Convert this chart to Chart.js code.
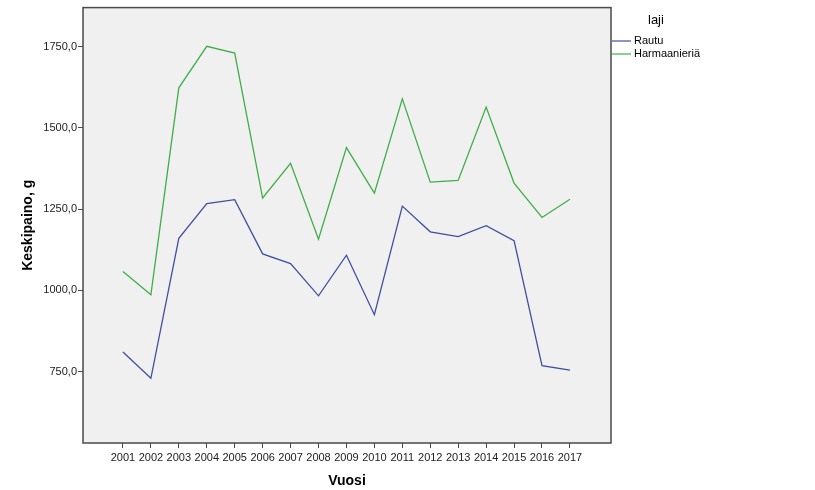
<!DOCTYPE html>
<html>
<head>
<meta charset="utf-8">
<script src="https://cdn.jsdelivr.net/npm/chart.js@4/dist/chart.umd.min.js"></script>
<style>
body{margin:0;background:#fff}
#wrap{width:815px;height:490px;position:relative}
</style>
</head>
<body>
<div id="wrap"><canvas id="c"></canvas></div>
<script>
const years = [2001,2002,2003,2004,2005,2006,2007,2008,2009,2010,2011,2012,2013,2014,2015,2016,2017]
const rautu = [810,729,1160,1267,1279,1112,1082,983,1108,925,1259,1180,1165,1199,1153,768,754]
const harmaanieria = [1058,986,1623,1751,1730,1284,1391,1157,1439,1299,1589,1333,1338,1564,1330,1224,1280]
const yTicks = [750,1000,1250,1500,1750]

const FONT = "'Liberation Sans', Arial, sans-serif"
const BLUE = "#3e4fa0"
const GREEN = "#3fae49"

const boxPlugin = {
id:"box",
beforeDraw(chart){
const a = chart.chartArea, c = chart.ctx
c.save()
c.fillStyle = "#f0f0f0"
c.fillRect(a.left,a.top,a.right-a.left,a.bottom-a.top)
c.restore()
},
afterDraw(chart){
const a = chart.chartArea, c = chart.ctx
c.save()
c.strokeStyle = "#4a4a4a"
c.lineWidth = 1.5
c.strokeRect(a.left,a.top,a.right-a.left,a.bottom-a.top)
// legend
c.fillStyle = "#000"
c.font = "13px " + FONT
c.textBaseline = "middle"
c.fillText("laji",648,20)
c.font = "11px " + FONT
chart.data.datasets.forEach((ds,i) => {
const y = 41 + i*13
c.strokeStyle = ds.borderColor
c.lineWidth = 1.2
c.beginPath()
c.moveTo(612,y)
c.lineTo(631,y)
c.stroke()
c.fillStyle = "#000"
c.fillText(ds.label,634,y)
})
c.restore()
}
}

new Chart(document.getElementById("c"),{
type:"line",
data:{
datasets:[
{
label:"Rautu",
data:years.map((y,i) => ({x:y,y:rautu[i]})),
borderColor:BLUE,
borderWidth:1.3,
pointRadius:0,
tension:0
},
{
label:"Harmaanieriä",
data:years.map((y,i) => ({x:y,y:harmaanieria[i]})),
borderColor:GREEN,
borderWidth:1.3,
pointRadius:0,
tension:0
}
]
},
options:{
responsive:true,
maintainAspectRatio:false,
animation:false,
layout:{padding:{top:7,right:204,left:0,bottom:0}},
plugins:{
legend:{display:false},
tooltip:{enabled:false}
},
scales:{
x:{
type:"linear",
min:1999.57,
max:2018.47,
afterBuildTicks(s){ s.ticks = years.map(v => ({value:v})) },
afterFit(s){ s.height = 47 },
grid:{drawOnChartArea:false,drawTicks:true,tickLength:5,color:"#4a4a4a"},
border:{display:false},
ticks:{color:"#222",font:{family:FONT,size:11},padding:3,maxRotation:0,autoSkip:false,callback:v => String(v)},
title:{display:true,text:"Vuosi",color:"#000",font:{family:FONT,size:14,weight:"bold"},padding:{top:9,bottom:0}}
},
y:{
min:530,
max:1870,
afterBuildTicks(s){ s.ticks = yTicks.map(v => ({value:v})) },
afterFit(s){ s.width = 83 },
grid:{drawOnChartArea:false,drawTicks:true,tickLength:5,color:"#4a4a4a"},
border:{display:false},
ticks:{color:"#222",font:{family:FONT,size:11},padding:1,callback:v => v.toFixed(1).replace(".",",")},
title:{display:true,text:"Keskipaino, g",color:"#000",font:{family:FONT,size:14,weight:"bold"},padding:{top:20,bottom:0}}
}
}
},
plugins:[boxPlugin]
})
</script>
</body>
</html>
